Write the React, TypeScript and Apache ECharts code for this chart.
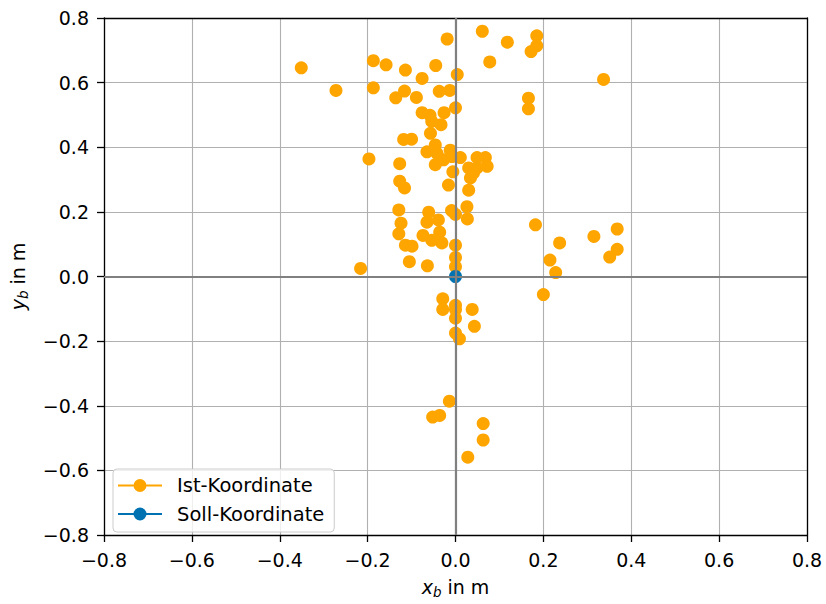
import React, { useEffect, useRef } from "react";
import * as echarts from "echarts";

const istX: number[] = [
  -0.351, -0.272, -0.187, -0.158, -0.114, -0.076, -0.045, -0.019, 0.004, 0.061,
  0.118, 0.078, 0.185, 0.185, 0.172, 0.337, -0.187, -0.136, -0.116, -0.089,
  -0.037, -0.013, 0.166, 0.166, 0.0, -0.076, -0.058, -0.026, -0.033, -0.054,
  -0.118, -0.1, -0.057, -0.065, -0.046, -0.042, -0.012, -0.008, 0.011, -0.046,
  -0.027, -0.006, -0.016, 0.03, 0.034, 0.03, 0.049, 0.068, 0.072, 0.049,
  0.041, -0.197, -0.127, -0.127, -0.116, -0.129, -0.124, -0.129, -0.114, -0.099,
  -0.105, -0.216, -0.064, -0.061, -0.065, -0.039, -0.074, -0.054, -0.036, -0.031,
  -0.009, 0.0, 0.026, 0.027, 0.0, 0.0, 0.0, 0.182, 0.237, 0.215,
  0.228, 0.2, 0.315, 0.368, 0.368, 0.351, -0.029, -0.029, 0.0, 0.0,
  0.0, 0.038, 0.043, 0.0, 0.009, -0.014, -0.052, -0.036, 0.063, 0.063,
  0.028,
];
const istY: number[] = [
  0.646, 0.576, 0.668, 0.655, 0.639, 0.613, 0.653, 0.735, 0.625, 0.759,
  0.725, 0.664, 0.745, 0.714, 0.696, 0.61, 0.584, 0.553, 0.574, 0.554,
  0.573, 0.576, 0.552, 0.519, 0.522, 0.507, 0.499, 0.507, 0.47, 0.48,
  0.424, 0.425, 0.443, 0.386, 0.407, 0.381, 0.391, 0.371, 0.368, 0.346,
  0.361, 0.324, 0.283, 0.267, 0.305, 0.336, 0.368, 0.368, 0.341, 0.336,
  0.32, 0.364, 0.349, 0.295, 0.274, 0.206, 0.165, 0.132, 0.097, 0.094,
  0.046, 0.025, 0.033, 0.199, 0.168, 0.175, 0.127, 0.112, 0.137, 0.104,
  0.204, 0.192, 0.216, 0.178, 0.097, 0.059, 0.03, 0.16, 0.104, 0.051,
  0.012, -0.056, 0.124, 0.147, 0.084, 0.06, -0.069, -0.102, -0.089, -0.102,
  -0.129, -0.102, -0.154, -0.175, -0.193, -0.386, -0.435, -0.43, -0.455, -0.506,
  -0.559,
];
const sollX: number[] = [0.0];
const sollY: number[] = [0.0];

const axisTicks: number[] = [-0.8, -0.6, -0.4, -0.2, 0.0, 0.2, 0.4, 0.6, 0.8];
const seriesNames: string[] = ["Ist-Koordinate", "Soll-Koordinate"];

const FONT = "DejaVu Sans";
const ORANGE = "#FFA500";
const BLUE = "#0072B2";

const legendIcon =
  "path://M0,6.1H15.6V7.9H0Z M28.4,6.1H44V7.9H28.4Z M15.5,7A6.5,6.5 0 1,1 28.5,7A6.5,6.5 0 1,1 15.5,7Z";

const fmt = (v: number) => {
  const s = (Math.round(v * 10) / 10).toFixed(1);
  return s.startsWith("-") ? "\u2212" + s.slice(1) : s;
};

export default function App() {
  const ref = useRef<HTMLDivElement>(null);
  useEffect(() => {
    if (!ref.current) return;
    const chart = echarts.init(ref.current, undefined, { renderer: "svg" });
    const istData = istX.map((x, i) => [x, istY[i]]);
    const sollData = sollX.map((x, i) => [x, sollY[i]]);
    const range = {
      type: "value" as const,
      min: axisTicks[0],
      max: axisTicks[axisTicks.length - 1],
      interval: 0.2,
    };
    const axisCommon = {
      ...range,
      axisLine: { show: true, onZero: false, lineStyle: { color: "#000", width: 1.3 } },
      axisTick: { show: true, length: 7, lineStyle: { color: "#000", width: 1.3 } },
      splitLine: { show: true, lineStyle: { color: "#b0b0b0", width: 1.1 } },
      axisLabel: {
        formatter: fmt,
        color: "#000",
        fontFamily: FONT,
        fontSize: 19,
        margin: 15,
      },
      nameLocation: "middle" as const,
      nameTextStyle: { color: "#000", fontFamily: FONT, fontSize: 19 },
    };
    const frameAxis = {
      ...range,
      axisLine: { show: true, onZero: false, lineStyle: { color: "#000", width: 1.3 } },
      axisTick: { show: false },
      axisLabel: { show: false },
      splitLine: { show: false },
    };
    const rich = {
      i: { fontStyle: "italic", fontSize: 19, fontFamily: FONT, color: "#000", lineHeight: 24, verticalAlign: "middle" },
      s: { fontStyle: "italic", fontSize: 13.5, fontFamily: FONT, color: "#000", lineHeight: 12, verticalAlign: "bottom" },
      t: { fontSize: 19, fontFamily: FONT, color: "#000", lineHeight: 24, verticalAlign: "middle" },
    };
    chart.setOption({
      animation: false,
      backgroundColor: "#fff",
      grid: {
        left: 104,
        top: 18,
        width: 703,
        height: 524,
        show: false,
      },
      xAxis: [
        {
          ...axisCommon,
          position: "bottom",
          name: "{i|x}{s|b}{t| in m}",
          nameGap: 40,
          nameTextStyle: { ...axisCommon.nameTextStyle, rich },
        },
        { ...frameAxis, position: "top" },
      ],
      yAxis: [
        {
          ...axisCommon,
          position: "left",
          name: "{i|y}{s|b}{t| in m}",
          nameGap: 74,
          nameRotate: 90,
          nameTextStyle: { ...axisCommon.nameTextStyle, rich },
        },
        { ...frameAxis, position: "right" },
      ],
      legend: {
        orient: "vertical",
        left: 113,
        top: 469,
        data: seriesNames.map((n) => ({ name: n, icon: legendIcon })),
        itemWidth: 44,
        itemHeight: 13,
        itemGap: 8.5,
        padding: [6.5, 10, 8, 5],
        backgroundColor: "rgba(255,255,255,0.8)",
        borderColor: "#cccccc",
        borderWidth: 1,
        borderRadius: 4,
        textStyle: { color: "#000", fontFamily: FONT, fontSize: 19.5, padding: [0, 0, 0, 10] },
      },
      series: [
        {
          name: "zero",
          type: "scatter",
          data: [],
          z: 1,
          silent: true,
          markLine: {
            silent: true,
            symbol: "none",
            label: { show: false },
            lineStyle: { color: "#808080", width: 2.2, type: "solid" },
            data: [{ xAxis: 0 }, { yAxis: 0 }],
          },
        },
        {
          name: seriesNames[0],
          type: "scatter",
          data: istData,
          symbol: "circle",
          symbolSize: 13,
          itemStyle: { color: ORANGE, opacity: 1 },
          z: 3,
        },
        {
          name: seriesNames[1],
          type: "scatter",
          data: sollData,
          symbol: "circle",
          symbolSize: 13,
          itemStyle: { color: BLUE, opacity: 1 },
          z: 4,
        },
      ],
    });
    return () => chart.dispose();
  }, []);
  return (
    <div
      ref={ref}
      style={{ position: "fixed", left: 0, top: 0, width: 826, height: 604 }}
    />
  );
}
